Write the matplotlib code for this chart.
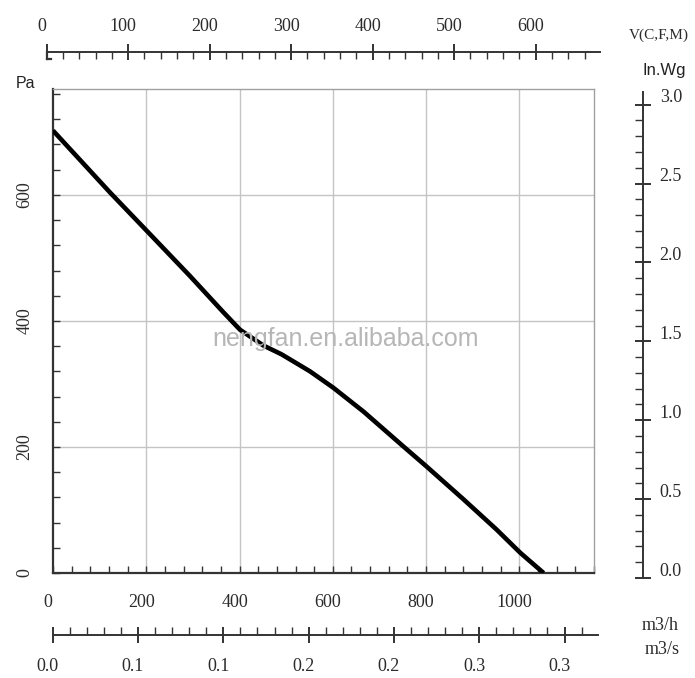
import matplotlib
matplotlib.use('Agg')
import matplotlib.pyplot as plt
import matplotlib.transforms as mtransforms
from matplotlib.lines import Line2D
from matplotlib.ticker import FixedLocator, MultipleLocator, FixedFormatter

# ---------------- data ----------------
flow_m3h = [0, 122, 201, 294, 365, 401, 451, 490, 551, 601, 666, 751, 801, 880, 951, 1002, 1052]
pressure_pa = [702, 604, 543, 471, 414, 386, 361, 347, 320, 294, 256, 201, 169, 117, 69, 32, 0]

x_ticks = [0, 200, 400, 600, 800, 1000]
x_labels = ['0', '200', '400', '600', '800', '1000']
y_ticks = [0, 200, 400, 600]
y_labels = ['0', '200', '400', '600']
top_ticks = [0, 100, 200, 300, 400, 500, 600]
top_labels = ['0', '100', '200', '300', '400', '500', '600']
inwg_ticks = [0.0, 0.5, 1.0, 1.5, 2.0, 2.5, 3.0]
inwg_labels = ['0.0', '0.5', '1.0', '1.5', '2.0', '2.5', '3.0']
m3s_ticks = [0.0, 0.05, 0.10, 0.15, 0.20, 0.25, 0.30]
m3s_labels = ['0.0', '0.1', '0.1', '0.2', '0.2', '0.3', '0.3']

W, H = 695, 678
DPI = 100
fig = plt.figure(figsize=(W / DPI, H / DPI), dpi=DPI)
fig.patch.set_facecolor('white')

SERIF = 'Liberation Serif'
SANS = 'Liberation Sans'
TXT = '#2b2b2b'
DARK = '#333333'


def rect(x0, y0, x1, y1):
    return [x0 / W, 1 - y1 / H, (x1 - x0) / W, max((y1 - y0) / H, 1e-4)]


def shift(labels, dx=0, dy=0):
    off = mtransforms.ScaledTranslation(dx / DPI, dy / DPI, fig.dpi_scale_trans)
    for lab in labels:
        lab.set_transform(lab.get_transform() + off)


# ---------------- main axes ----------------
ax = fig.add_axes(rect(53, 89, 594, 573))
ax.set_xlim(0, 1160)
ax.set_ylim(0, 768)
ax.plot(flow_m3h, pressure_pa, color='black', lw=3.3, zorder=5,
        solid_joinstyle='round', solid_capstyle='butt')

for v in [200, 400, 600, 800, 1000]:
    ax.axvline(v, color='#c4c4c4', lw=1.0, zorder=1)
for v in [200, 400, 600]:
    ax.axhline(v, color='#c4c4c4', lw=1.0, zorder=1)

for s in ['left', 'bottom']:
    ax.spines[s].set_color(DARK)
    ax.spines[s].set_linewidth(1.6)
for s in ['top', 'right']:
    ax.spines[s].set_color('#a0a0a0')
    ax.spines[s].set_linewidth(1.0)

ax.xaxis.set_major_locator(FixedLocator(x_ticks))
ax.xaxis.set_major_formatter(FixedFormatter(x_labels))
ax.xaxis.set_minor_locator(MultipleLocator(40))
ax.yaxis.set_major_locator(FixedLocator(y_ticks))
ax.yaxis.set_major_formatter(FixedFormatter(y_labels))
ax.yaxis.set_minor_locator(MultipleLocator(40))
ax.tick_params(which='both', direction='in', color=DARK, width=1.0)
ax.tick_params(which='major', length=5)
ax.tick_params(which='minor', length=5)
ax.tick_params(axis='x', which='major', pad=15, labelsize=13, labelcolor=TXT)
ax.tick_params(axis='y', which='major', pad=14, labelsize=13, labelcolor=TXT)
for lab in ax.get_xticklabels():
    lab.set_fontfamily(SERIF)
for lab in ax.get_yticklabels():
    lab.set_fontfamily(SERIF)
    lab.set_rotation(90)
    lab.set_va('center')

fig.text(25.5 / W, 1 - 83 / H, 'Pa', family=SANS, fontsize=11.5, color='#222222',
         ha='center', va='center')

fig.text(346 / W, 1 - 339 / H, 'nengfan.en.alibaba.com', family=SANS, fontsize=18,
         color='#b6b6b6', ha='center', va='center', zorder=3)

# ---------------- top axis (V) ----------------
axt = fig.add_axes(rect(46.7, 51.7, 600, 51.7))
axt.set_xlim(0, 679)
axt.patch.set_visible(False)
for s in ['left', 'right', 'bottom']:
    axt.spines[s].set_visible(False)
axt.spines['top'].set_color(DARK)
axt.spines['top'].set_linewidth(1.4)
axt.set_yticks([])
axt.xaxis.tick_top()
axt.xaxis.set_major_locator(FixedLocator(top_ticks))
axt.xaxis.set_major_formatter(FixedFormatter(top_labels))
axt.xaxis.set_minor_locator(MultipleLocator(20))
axt.tick_params(axis='x', which='major', direction='inout', length=12, width=1.4,
                color=DARK, pad=6, labelsize=13, labelcolor=TXT)
axt.tick_params(axis='x', which='minor', direction='in', length=5, width=1.0, color=DARK)
for lab in axt.get_xticklabels():
    lab.set_fontfamily(SERIF)

# small foot at the start of the top scale
fig.add_artist(Line2D([46.7 / W, 46.7 / W], [1 - 51.7 / H, 1 - 59 / H], color=DARK, lw=1.6))
fig.add_artist(Line2D([46.7 / W, 50.5 / W], [1 - 59 / H, 1 - 59 / H], color=DARK, lw=1.6))

fig.text(659 / W, 1 - 35 / H, 'V(C,F,M)', family=SERIF, fontsize=11, color=TXT,
         ha='center', va='center')

# ---------------- right axis (In.Wg) ----------------
axr = fig.add_axes(rect(643, 92, 643, 578))
axr.set_ylim(0, 3.08)
axr.patch.set_visible(False)
for s in ['left', 'top', 'bottom']:
    axr.spines[s].set_visible(False)
axr.spines['right'].set_color(DARK)
axr.spines['right'].set_linewidth(1.4)
axr.set_xticks([])
axr.yaxis.tick_right()
axr.yaxis.set_major_locator(FixedLocator(inwg_ticks))
axr.yaxis.set_major_formatter(FixedFormatter(inwg_labels))
axr.yaxis.set_minor_locator(MultipleLocator(0.1))
axr.tick_params(axis='y', which='major', direction='inout', length=12, width=1.4,
                color=DARK, pad=6, labelsize=13, labelcolor=TXT)
axr.tick_params(axis='y', which='minor', direction='in', length=6, width=1.0, color=DARK)
for lab in axr.get_yticklabels():
    lab.set_fontfamily(SERIF)

fig.text(664 / W, 1 - 71 / H, 'In.Wg', family=SANS, fontsize=12, color='#222222',
         ha='center', va='center')

# ---------------- bottom secondary axis (m3/s) ----------------
axb = fig.add_axes(rect(52.7, 634.5, 598, 634.5))
axb.set_xlim(0, 0.3196)
axb.patch.set_visible(False)
for s in ['left', 'right', 'top']:
    axb.spines[s].set_visible(False)
axb.spines['bottom'].set_color(DARK)
axb.spines['bottom'].set_linewidth(1.4)
axb.set_yticks([])
axb.xaxis.set_major_locator(FixedLocator(m3s_ticks))
axb.xaxis.set_major_formatter(FixedFormatter(m3s_labels))
axb.xaxis.set_minor_locator(MultipleLocator(0.01))
axb.tick_params(axis='x', which='major', direction='inout', length=12, width=1.4,
                color=DARK, pad=11, labelsize=13, labelcolor=TXT)
axb.tick_params(axis='x', which='minor', direction='in', length=6, width=1.0, color=DARK)
for lab in axb.get_xticklabels():
    lab.set_fontfamily(SERIF)

fig.text(660 / W, 1 - 625 / H, 'm3/h', family=SERIF, fontsize=13, color=TXT,
         ha='center', va='center')
fig.text(662 / W, 1 - 649 / H, 'm3/s', family=SERIF, fontsize=13, color=TXT,
         ha='center', va='center')

# label offsets seen in the reference
shift(ax.get_xticklabels(), dx=-5)
shift(axt.get_xticklabels(), dx=-5)
shift(axb.get_xticklabels(), dx=-5)
shift(axr.get_yticklabels(), dy=9)

fig.savefig('out.png', dpi=DPI, facecolor='white')
